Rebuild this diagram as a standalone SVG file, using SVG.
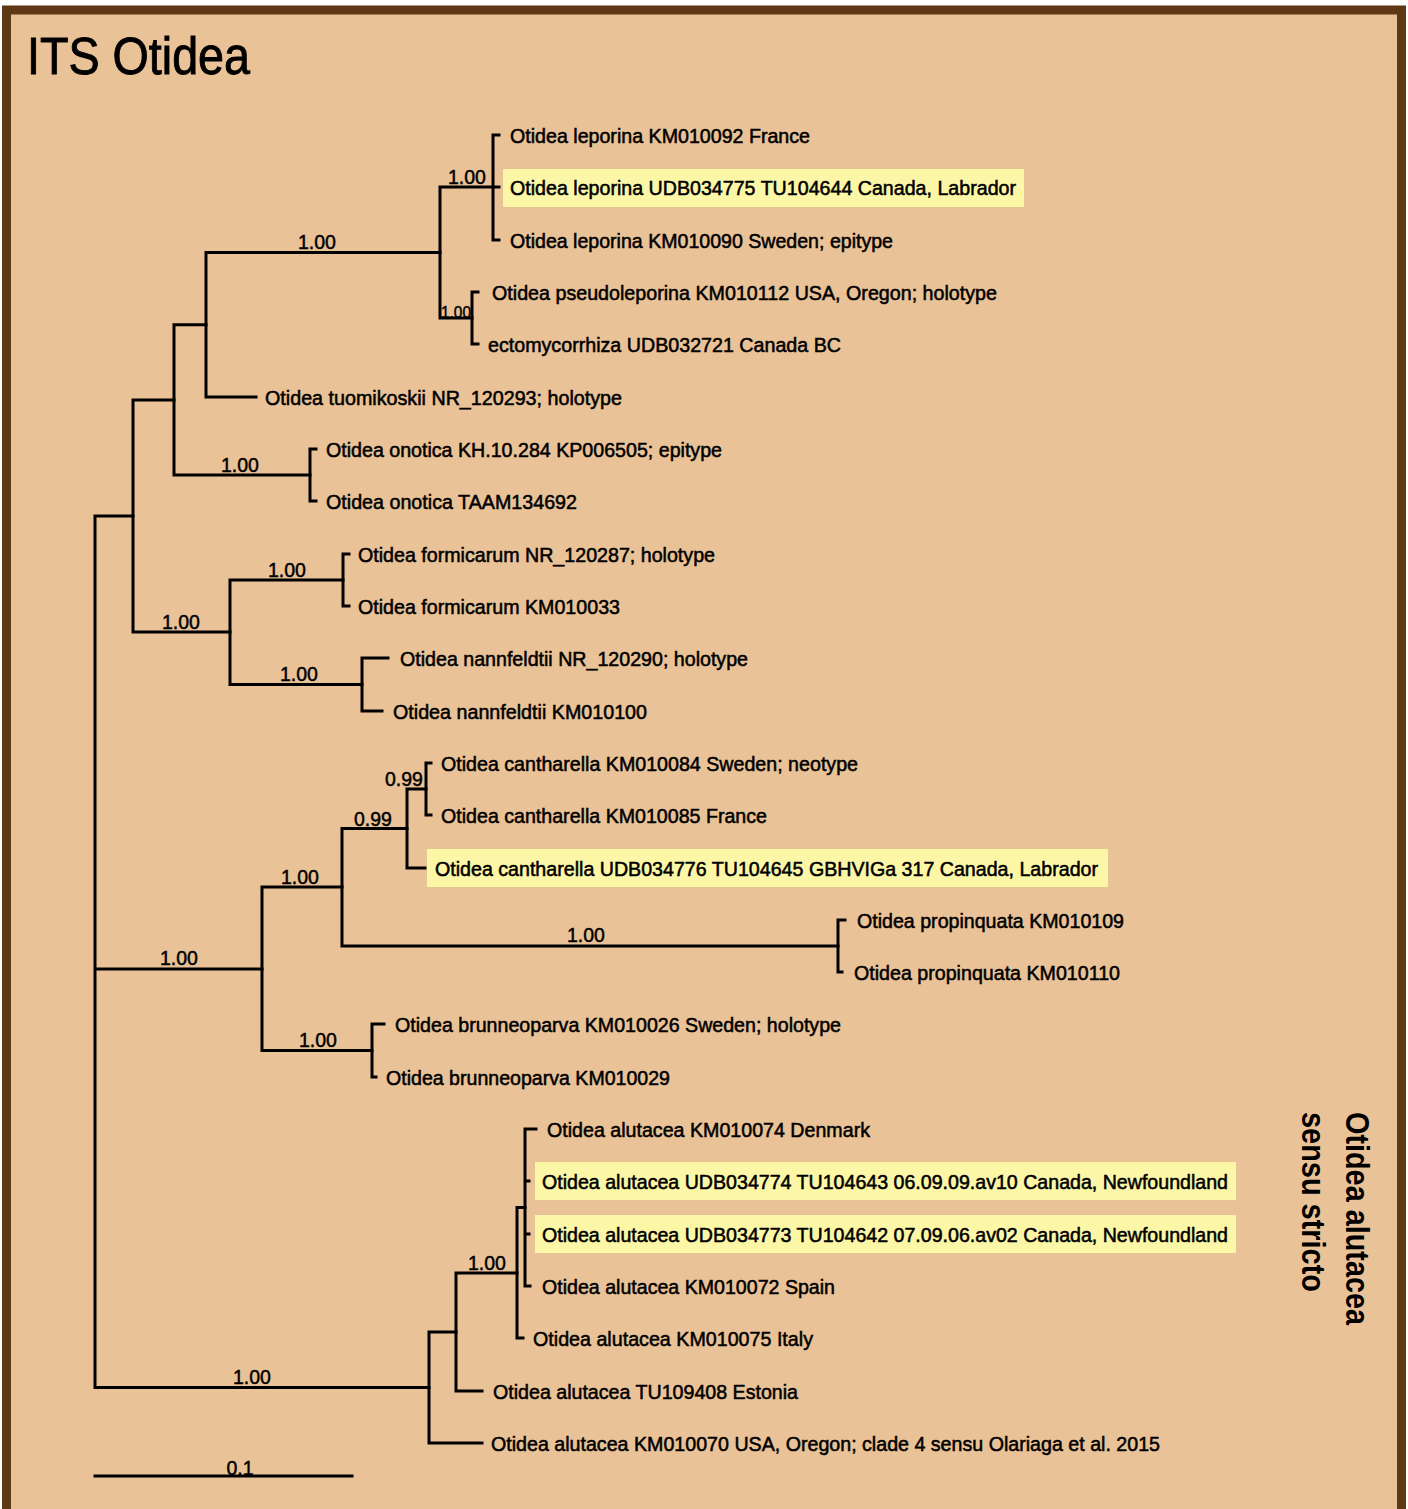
<svg xmlns="http://www.w3.org/2000/svg" width="1408" height="1509" viewBox="0 0 1408 1509">
<style>
.bg{fill:#EAC297}
.frame{fill:none;stroke:#5E3714;stroke-width:9}
.br{fill:none;stroke:#000;stroke-width:3;stroke-linecap:square}
.leaf{font-family:"Liberation Sans",Arial,sans-serif;font-size:21px;fill:#000;stroke:#000;stroke-width:0.55}
.sup{font-family:"Liberation Sans",Arial,sans-serif;font-size:19.5px;fill:#000;stroke:#000;stroke-width:0.45;text-anchor:middle}
.hl{fill:#FCF7A6}
.title{font-family:"Liberation Sans",Arial,sans-serif;font-size:51px;fill:#000;stroke:#000;stroke-width:0.9}
.clade{font-family:"Liberation Sans",Arial,sans-serif;font-size:33px;font-weight:bold;fill:#000}
</style>
<rect x="0" y="0" width="1408" height="1509" fill="#FFFFFF"/>
<rect class="bg" x="2" y="6" width="1404" height="1503"/>
<rect class="frame" x="6.5" y="10" width="1395" height="1504"/>
<text class="title" x="27" y="74" textLength="223" lengthAdjust="spacingAndGlyphs">ITS Otidea</text>

<g id="highlights">
<rect class="hl" x="503" y="169" width="521" height="38"/>
<rect class="hl" x="427" y="849" width="681" height="38"/>
<rect class="hl" x="535" y="1162" width="701" height="38"/>
<rect class="hl" x="535" y="1215" width="701" height="38"/>
</g>

<g id="connectors">
<path class="br" d="M95,516 V1387.5 M95,516 H133 M95,969 H262 M95,1387.5 H429"/>
<path class="br" d="M133,400 V632 M133,400 H174 M133,632 H230"/>
<path class="br" d="M174,324.75 V475 M174,324.75 H206 M174,475 H310"/>
<path class="br" d="M206,252.5 V397 M206,252.5 H440 M206,397 H256"/>
<path class="br" d="M440,187 V318 M440,187 H493 M440,318 H472"/>
<path class="br" d="M493,135 V240 M493,135 H499 M493,187 H499 M493,240 H499"/>
<path class="br" d="M472,292 V344 M472,292 H478 M472,344 H478"/>
<path class="br" d="M310,449 V501 M310,449 H316 M310,501 H316"/>
<path class="br" d="M230,580 V684.5 M230,580 H343 M230,684.5 H362"/>
<path class="br" d="M343,554 V606 M343,554 H349 M343,606 H349"/>
<path class="br" d="M362,658 V711 M362,658 H388 M362,711 H382"/>
<path class="br" d="M262,887 V1050.5 M262,887 H342 M262,1050.5 H372"/>
<path class="br" d="M342,828.5 V946 M342,828.5 H407 M342,946 H838"/>
<path class="br" d="M407,789 V868 M407,789 H426 M407,868 H425"/>
<path class="br" d="M426,763 V815 M426,763 H431 M426,815 H431"/>
<path class="br" d="M838,920 V972 M838,920 H845 M838,972 H842"/>
<path class="br" d="M372,1024 V1077 M372,1024 H384 M372,1077 H376"/>
<path class="br" d="M429,1332 V1443 M429,1332 H456 M429,1443 H482"/>
<path class="br" d="M456,1273 V1391 M456,1273 H517 M456,1391 H482"/>
<path class="br" d="M517,1207.5 V1338 M517,1207.5 H525 M517,1338 H523"/>
<path class="br" d="M525,1129 V1286 M525,1129 H536 M525,1181 H529 M525,1234 H529 M525,1286 H530"/>
<path class="br" d="M95,1476 H352"/>
</g>

<g id="support">
<text class="sup" x="317" y="249">1.00</text>
<text class="sup" x="467" y="184">1.00</text>
<text class="sup" x="456" y="318" style="font-size:17px" textLength="30" lengthAdjust="spacingAndGlyphs">1.00</text>
<text class="sup" x="240" y="472">1.00</text>
<text class="sup" x="287" y="577">1.00</text>
<text class="sup" x="181" y="629">1.00</text>
<text class="sup" x="299" y="681">1.00</text>
<text class="sup" x="404" y="786">0.99</text>
<text class="sup" x="373" y="826">0.99</text>
<text class="sup" x="300" y="884">1.00</text>
<text class="sup" x="586" y="942">1.00</text>
<text class="sup" x="179" y="965">1.00</text>
<text class="sup" x="318" y="1047">1.00</text>
<text class="sup" x="487" y="1270">1.00</text>
<text class="sup" x="252" y="1384">1.00</text>
<text class="sup" x="240" y="1475">0.1</text>
</g>

<g id="leaves">
<text id="n0" class="leaf" x="510" y="142.5" textLength="300" lengthAdjust="spacingAndGlyphs">Otidea leporina KM010092 France</text>
<text id="n1" class="leaf" x="510" y="194.5" textLength="506" lengthAdjust="spacingAndGlyphs">Otidea leporina UDB034775 TU104644 Canada, Labrador</text>
<text id="n2" class="leaf" x="510" y="247.5" textLength="383" lengthAdjust="spacingAndGlyphs">Otidea leporina KM010090 Sweden; epitype</text>
<text id="n3" class="leaf" x="492" y="299.5" textLength="505" lengthAdjust="spacingAndGlyphs">Otidea pseudoleporina KM010112 USA, Oregon; holotype</text>
<text id="n4" class="leaf" x="488" y="351.5" textLength="353" lengthAdjust="spacingAndGlyphs">ectomycorrhiza UDB032721 Canada BC</text>
<text id="n5" class="leaf" x="265" y="404.5" textLength="357" lengthAdjust="spacingAndGlyphs">Otidea tuomikoskii NR_120293; holotype</text>
<text id="n6" class="leaf" x="326" y="456.5" textLength="396" lengthAdjust="spacingAndGlyphs">Otidea onotica KH.10.284 KP006505; epitype</text>
<text id="n7" class="leaf" x="326" y="508.5" textLength="251" lengthAdjust="spacingAndGlyphs">Otidea onotica TAAM134692</text>
<text id="n8" class="leaf" x="358" y="561.5" textLength="357" lengthAdjust="spacingAndGlyphs">Otidea formicarum NR_120287; holotype</text>
<text id="n9" class="leaf" x="358" y="613.5" textLength="262" lengthAdjust="spacingAndGlyphs">Otidea formicarum KM010033</text>
<text id="n10" class="leaf" x="400" y="665.5" textLength="348" lengthAdjust="spacingAndGlyphs">Otidea nannfeldtii NR_120290; holotype</text>
<text id="n11" class="leaf" x="393" y="718.5" textLength="254" lengthAdjust="spacingAndGlyphs">Otidea nannfeldtii KM010100</text>
<text id="n12" class="leaf" x="441" y="770.5" textLength="417" lengthAdjust="spacingAndGlyphs">Otidea cantharella KM010084 Sweden; neotype</text>
<text id="n13" class="leaf" x="441" y="822.5" textLength="326" lengthAdjust="spacingAndGlyphs">Otidea cantharella KM010085 France</text>
<text id="n14" class="leaf" x="435" y="875.5" textLength="663" lengthAdjust="spacingAndGlyphs">Otidea cantharella UDB034776 TU104645 GBHVIGa 317 Canada, Labrador</text>
<text id="n15" class="leaf" x="857" y="927.5" textLength="267" lengthAdjust="spacingAndGlyphs">Otidea propinquata KM010109</text>
<text id="n16" class="leaf" x="854" y="979.5" textLength="266" lengthAdjust="spacingAndGlyphs">Otidea propinquata KM010110</text>
<text id="n17" class="leaf" x="395" y="1031.5" textLength="446" lengthAdjust="spacingAndGlyphs">Otidea brunneoparva KM010026 Sweden; holotype</text>
<text id="n18" class="leaf" x="386" y="1084.5" textLength="284" lengthAdjust="spacingAndGlyphs">Otidea brunneoparva KM010029</text>
<text id="n19" class="leaf" x="547" y="1136.5" textLength="323" lengthAdjust="spacingAndGlyphs">Otidea alutacea KM010074 Denmark</text>
<text id="n20" class="leaf" x="542" y="1188.5" textLength="686" lengthAdjust="spacingAndGlyphs">Otidea alutacea UDB034774 TU104643 06.09.09.av10 Canada, Newfoundland</text>
<text id="n21" class="leaf" x="542" y="1241.5" textLength="686" lengthAdjust="spacingAndGlyphs">Otidea alutacea UDB034773 TU104642 07.09.06.av02 Canada, Newfoundland</text>
<text id="n22" class="leaf" x="542" y="1293.5" textLength="293" lengthAdjust="spacingAndGlyphs">Otidea alutacea KM010072 Spain</text>
<text id="n23" class="leaf" x="533" y="1345.5" textLength="280" lengthAdjust="spacingAndGlyphs">Otidea alutacea KM010075 Italy</text>
<text id="n24" class="leaf" x="493" y="1398.5" textLength="305" lengthAdjust="spacingAndGlyphs">Otidea alutacea TU109408 Estonia</text>
<text id="n25" class="leaf" x="491" y="1450.5" textLength="669" lengthAdjust="spacingAndGlyphs">Otidea alutacea KM010070 USA, Oregon; clade 4 sensu Olariaga et al. 2015</text>
</g>

<g id="clade-label">
<text class="clade" transform="translate(1346,1112) rotate(90)" textLength="213" lengthAdjust="spacingAndGlyphs">Otidea alutacea</text>
<text class="clade" transform="translate(1302,1112) rotate(90)" textLength="180" lengthAdjust="spacingAndGlyphs">sensu stricto</text>
</g>
</svg>
